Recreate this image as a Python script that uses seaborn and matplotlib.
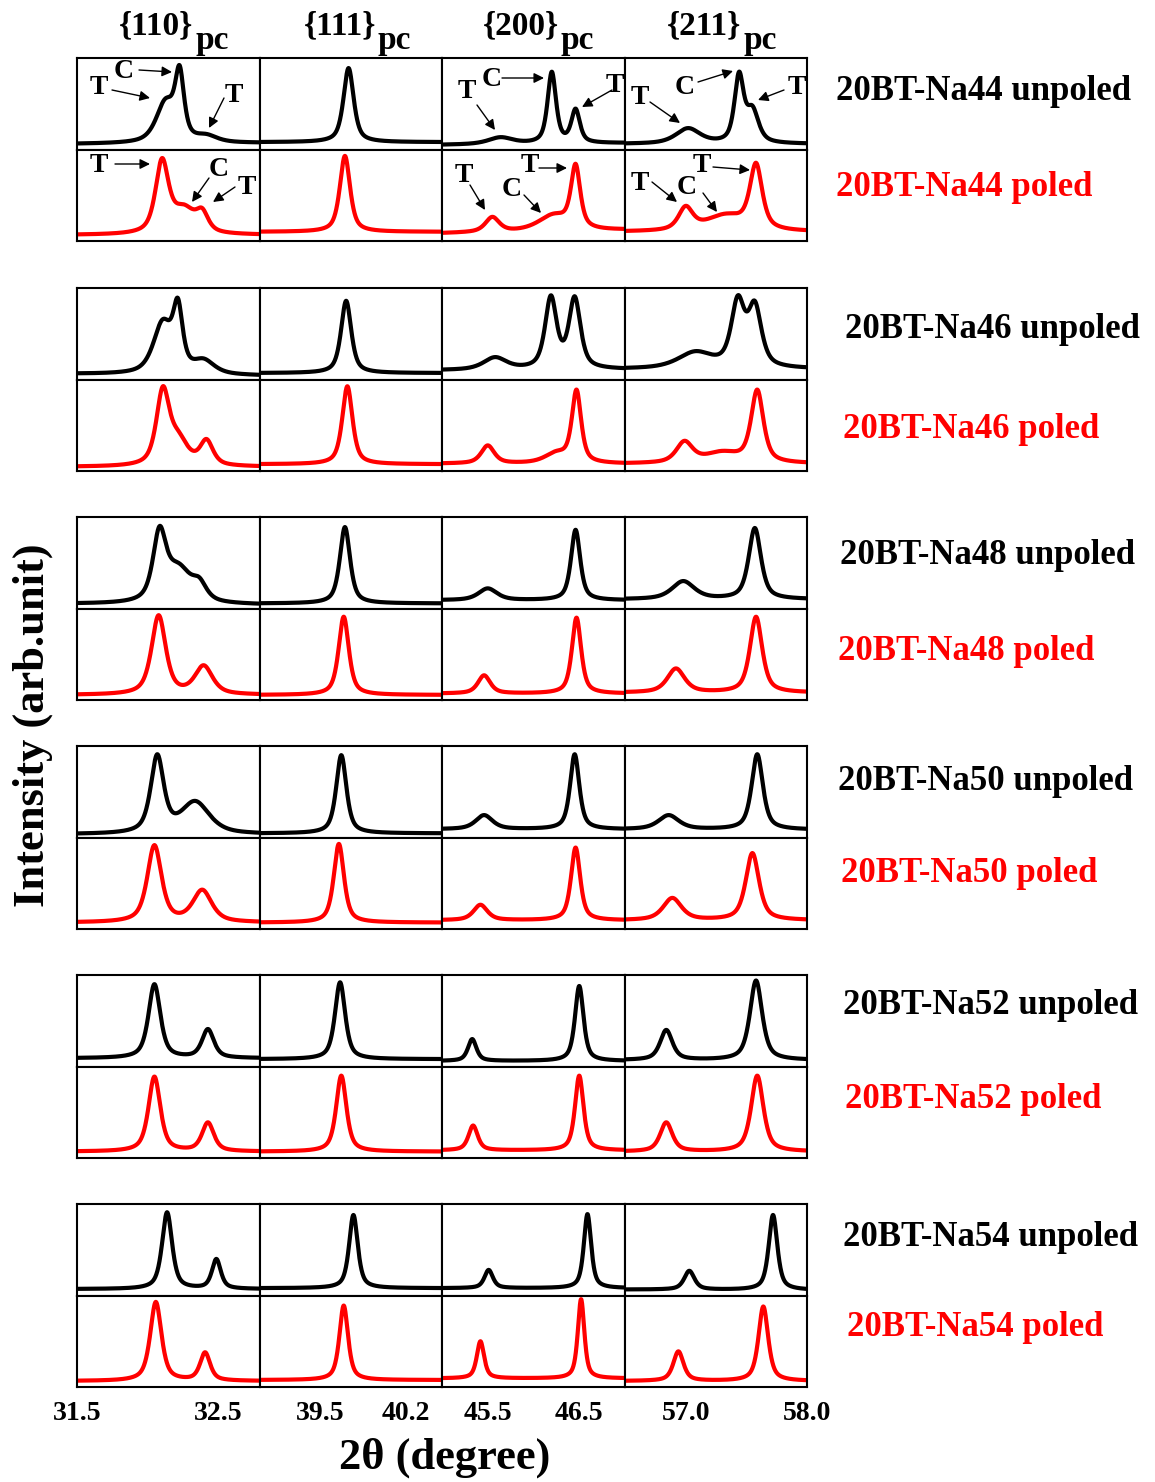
import numpy as np
import pandas as pd
import matplotlib
matplotlib.use("Agg")
import matplotlib.pyplot as plt
import seaborn as sns
from matplotlib.patches import FancyArrowPatch

# ---------------- data ----------------
REFLECTIONS = ["110", "111", "200", "211"]
X_RANGES = [(31.5, 32.8), (39.0, 40.5), (45.0, 47.0), (56.5, 58.0)]
TICKS = [[31.5, 32.5], [39.5, 40.2], [45.5, 46.5], [57.0, 58.0]]
TICK_LABELS = [["31.5", "32.5"], ["39.5", "40.2"], ["45.5", "46.5"], ["57.0", "58.0"]]
SAMPLES = ["20BT-Na44", "20BT-Na46", "20BT-Na48", "20BT-Na50", "20BT-Na52", "20BT-Na54"]

# peaks per reflection: (2theta centre, apparent height [panel fraction], FWHM)
NA44_UNPOLED = [
    [(32.13, 0.56, 0.16), (32.229, 0.92, 0.075), (32.42, 0.17, 0.18)],
    [(39.73, 0.89, 0.10)],
    [(45.64, 0.135, 0.32), (46.20, 0.85, 0.11), (46.46, 0.447, 0.11)],
    [(57.02, 0.234, 0.24), (57.44, 0.85, 0.09), (57.55, 0.48, 0.12)],
]
NA44_UNPOLED_BASE = [(0.06, 0.07), (0.08, 0.08), (0.05, 0.07), (0.06, 0.06)]
NA44_POLED = [
    [(32.104, 0.906, 0.11), (32.26, 0.40, 0.20), (32.39, 0.36, 0.10)],
    [(39.70, 0.93, 0.10)],
    [(45.55, 0.264, 0.18), (46.22, 0.30, 0.40), (46.46, 0.844, 0.12)],
    [(57.00, 0.384, 0.14), (57.33, 0.30, 0.40), (57.58, 0.855, 0.12)],
]
NA44_POLED_BASE = [(0.065, 0.065), (0.10, 0.10), (0.083, 0.12), (0.10, 0.10)]

NA46_UNPOLED = [
    [(32.11, 0.66, 0.16), (32.217, 0.89, 0.08), (32.40, 0.23, 0.18)],
    [(39.71, 0.86, 0.10)],
    [(45.58, 0.245, 0.30), (46.19, 0.92, 0.15), (46.45, 0.91, 0.15)],
    [(57.08, 0.31, 0.34), (57.43, 0.92, 0.13), (57.57, 0.86, 0.13)],
]
NA46_UNPOLED_BASE = [(0.06, 0.04), (0.07, 0.07), (0.10, 0.11), (0.115, 0.115)]
NA46_POLED = [
    [(32.11, 0.926, 0.11), (32.22, 0.44, 0.16), (32.42, 0.35, 0.11)],
    [(39.72, 0.926, 0.10)],
    [(45.50, 0.28, 0.17), (46.25, 0.22, 0.30), (46.47, 0.89, 0.12)],
    [(56.99, 0.33, 0.16), (57.30, 0.22, 0.35), (57.59, 0.89, 0.12)],
]
NA46_POLED_BASE = [(0.045, 0.045), (0.074, 0.074), (0.08, 0.08), (0.08, 0.08)]

NA48_UNPOLED = [
    [(32.086, 0.90, 0.11), (32.22, 0.50, 0.22), (32.37, 0.34, 0.12)],
    [(39.70, 0.89, 0.10)],
    [(45.50, 0.22, 0.24), (46.46, 0.86, 0.12)],
    [(56.98, 0.30, 0.22), (57.57, 0.88, 0.12)],
]
NA48_UNPOLED_BASE = [(0.05, 0.04), (0.055, 0.055), (0.09, 0.09), (0.10, 0.10)]
NA48_POLED = [
    [(32.08, 0.927, 0.12), (32.40, 0.38, 0.15)],
    [(39.69, 0.91, 0.10)],
    [(45.46, 0.27, 0.16), (46.47, 0.90, 0.12)],
    [(56.92, 0.345, 0.17), (57.58, 0.91, 0.12)],
]
NA48_POLED_BASE = [(0.055, 0.055), (0.055, 0.055), (0.07, 0.07), (0.08, 0.08)]

NA50_UNPOLED = [
    [(32.07, 0.91, 0.11), (32.34, 0.40, 0.24)],
    [(39.67, 0.90, 0.10)],
    [(45.46, 0.245, 0.22), (46.45, 0.91, 0.12)],
    [(56.86, 0.245, 0.20), (57.59, 0.91, 0.11)],
]
NA50_UNPOLED_BASE = [(0.035, 0.035), (0.045, 0.045), (0.09, 0.09), (0.09, 0.085)]
NA50_POLED = [
    [(32.05, 0.917, 0.12), (32.39, 0.43, 0.16)],
    [(39.65, 0.93, 0.10)],
    [(45.42, 0.265, 0.18), (46.46, 0.89, 0.12)],
    [(56.89, 0.34, 0.18), (57.55, 0.83, 0.13)],
]
NA50_POLED_BASE = [(0.07, 0.07), (0.07, 0.07), (0.095, 0.095), (0.095, 0.095)]

NA52_UNPOLED = [
    [(32.05, 0.90, 0.10), (32.43, 0.41, 0.10)],
    [(39.66, 0.92, 0.10)],
    [(45.33, 0.30, 0.11), (46.50, 0.88, 0.11)],
    [(56.84, 0.40, 0.12), (57.58, 0.94, 0.12)],
]
NA52_UNPOLED_BASE = [(0.09, 0.09), (0.08, 0.08), (0.06, 0.06), (0.07, 0.07)]
NA52_POLED = [
    [(32.05, 0.89, 0.10), (32.43, 0.39, 0.10)],
    [(39.67, 0.90, 0.10)],
    [(45.34, 0.355, 0.12), (46.50, 0.90, 0.11)],
    [(56.84, 0.39, 0.12), (57.59, 0.90, 0.12)],
]
NA52_POLED_BASE = [(0.07, 0.07), (0.07, 0.07), (0.083, 0.083), (0.07, 0.07)]

NA54_UNPOLED = [
    [(32.14, 0.91, 0.085), (32.49, 0.40, 0.075)],
    [(39.77, 0.88, 0.085)],
    [(45.51, 0.28, 0.11), (46.59, 0.89, 0.095)],
    [(57.03, 0.27, 0.10), (57.72, 0.88, 0.085)],
]
NA54_UNPOLED_BASE = [(0.07, 0.07), (0.08, 0.08), (0.08, 0.08), (0.065, 0.06)]
NA54_POLED = [
    [(32.06, 0.93, 0.095), (32.41, 0.38, 0.085)],
    [(39.69, 0.89, 0.085)],
    [(45.42, 0.50, 0.095), (46.52, 0.96, 0.085)],
    [(56.94, 0.39, 0.10), (57.64, 0.88, 0.095)],
]
NA54_POLED_BASE = [(0.065, 0.065), (0.076, 0.076), (0.094, 0.094), (0.065, 0.065)]

UNPOLED = [NA44_UNPOLED, NA46_UNPOLED, NA48_UNPOLED, NA50_UNPOLED, NA52_UNPOLED, NA54_UNPOLED]
UNPOLED_BASE = [NA44_UNPOLED_BASE, NA46_UNPOLED_BASE, NA48_UNPOLED_BASE,
                NA50_UNPOLED_BASE, NA52_UNPOLED_BASE, NA54_UNPOLED_BASE]
POLED = [NA44_POLED, NA46_POLED, NA48_POLED, NA50_POLED, NA52_POLED, NA54_POLED]
POLED_BASE = [NA44_POLED_BASE, NA46_POLED_BASE, NA48_POLED_BASE,
              NA50_POLED_BASE, NA52_POLED_BASE, NA54_POLED_BASE]

# ---------------- profile reconstruction ----------------
ETA = 0.65


def pv(x, c, w):
    d = (x - c) / w
    lor = 1.0 / (1.0 + 4.0 * d ** 2)
    gau = np.exp(-4.0 * np.log(2.0) * d ** 2)
    return ETA * lor + (1 - ETA) * gau


def profile(xr, peaks, base):
    x = np.linspace(xr[0], xr[1], 700)
    c = np.array([p[0] for p in peaks])
    h = np.array([p[1] for p in peaks])
    w = np.array([p[2] for p in peaks])

    def bl(t):
        return base[0] + (base[1] - base[0]) * (t - xr[0]) / (xr[1] - xr[0])

    M = pv(c[:, None], c[None, :], w[None, :])
    A = np.linalg.solve(M, h - bl(c))
    A = np.clip(A, 0, None)
    y = bl(x) + (pv(x[:, None], c[None, :], w[None, :]) * A[None, :]).sum(axis=1)
    return pd.DataFrame({"two_theta": x, "intensity": y})


# ---------------- layout ----------------
W, H = 1155, 1482
sns.set_theme(style="white")
plt.rcParams["font.family"] = ["Liberation Serif", "DejaVu Serif"]
plt.rcParams["text.color"] = "black"
plt.rcParams["xtick.color"] = "black"
plt.rcParams["axes.labelcolor"] = "black"

fig = plt.figure(figsize=(W / 100, H / 100), dpi=100)
fig.patch.set_facecolor("white")

COL_EDGES = [77, 260, 442, 625, 807]
GROUP_TOPS = [58, 288, 517, 746, 975, 1204]
ROW_H = 91.5


def add_px_axes(x0, y0, x1, y1):
    return fig.add_axes([x0 / W, 1 - y1 / H, (x1 - x0) / W, (y1 - y0) / H])


for g in range(6):
    for r, (curves, bases, color) in enumerate([(UNPOLED, UNPOLED_BASE, "black"),
                                                 (POLED, POLED_BASE, "#ff0000")]):
        y0 = GROUP_TOPS[g] + r * ROW_H
        for c in range(4):
            ax = add_px_axes(COL_EDGES[c], y0, COL_EDGES[c + 1], y0 + ROW_H)
            df = profile(X_RANGES[c], curves[g][c], bases[g][c])
            sns.lineplot(data=df, x="two_theta", y="intensity", ax=ax,
                         color=color, lw=3.0, sort=False)
            ax.set_xlim(*X_RANGES[c])
            ax.set_ylim(0, 1)
            ax.set_xlabel("")
            ax.set_ylabel("")
            ax.set_yticks([])
            for sp in ax.spines.values():
                sp.set_visible(True)
                sp.set_color("black")
                sp.set_linewidth(1.5)
            if g == 5 and r == 1:
                ax.set_xticks(TICKS[c])
                ax.set_xticklabels(TICK_LABELS[c], fontsize=20, fontweight="bold",
                                   color="black")
                ax.tick_params(axis="x", length=0, pad=10)
            else:
                ax.set_xticks([])

# overlay for texts and arrows (pixel coordinates)
ov = fig.add_axes([0, 0, 1, 1], zorder=10)
ov.set_xlim(0, W)
ov.set_ylim(H, 0)
ov.axis("off")
ov.patch.set_alpha(0)

# column titles
for c, refl in enumerate(REFLECTIONS):
    xc = (COL_EDGES[c] + COL_EDGES[c + 1]) / 2 + 25
    ov.text(xc, 26, "{" + refl + "}", fontsize=24, fontweight="bold",
            ha="right", va="center", color="black")
    ov.text(xc + 2, 40, "pc", fontsize=24, fontweight="bold", ha="left",
            va="center", color="black")

# sample labels
UNPOLED_LABEL_Y = [92, 329, 555, 782, 1006, 1237]
POLED_LABEL_Y = [187, 429, 652, 873, 1099, 1327]
UNPOLED_LABEL_X = [836, 845, 840, 838, 843, 843]
POLED_LABEL_X = [836, 843, 838, 841, 845, 847]
for g, name in enumerate(SAMPLES):
    ov.text(UNPOLED_LABEL_X[g], UNPOLED_LABEL_Y[g], name + " unpoled", fontsize=25,
            fontweight="bold", color="black", ha="left", va="center")
    ov.text(POLED_LABEL_X[g], POLED_LABEL_Y[g], name + " poled", fontsize=25,
            fontweight="bold", color="#ff0000", ha="left", va="center")

# axis labels
ov.text(33, 725, "Intensity (arb.unit)", fontsize=32, fontweight="bold",
        rotation=90, ha="center", va="center", color="black")
ov.text(445, 1458, "2θ (degree)", fontsize=32, fontweight="bold",
        ha="center", va="center", color="black")

# phase annotations (label, text x, text y, arrow start x, y, arrow tip x, y)
ANNOTATIONS = [
    ("T", 99, 87, 112, 90, 150, 98),
    ("C", 124, 72, 139, 70, 172, 72),
    ("T", 234, 95, 224, 98, 209, 128),
    ("T", 99, 165, 115, 164, 150, 164),
    ("C", 219, 170, 209, 178, 192, 202),
    ("T", 247, 187, 235, 187, 213, 202),
    ("T", 467, 92, 477, 105, 495, 130),
    ("C", 492, 80, 502, 78, 544, 78),
    ("T", 615, 85, 612, 90, 582, 107),
    ("T", 464, 175, 470, 185, 485, 210),
    ("C", 512, 190, 524, 195, 541, 213),
    ("T", 530, 165, 539, 168, 567, 168),
    ("T", 640, 98, 650, 102, 680, 123),
    ("C", 685, 87, 698, 82, 733, 71),
    ("T", 797, 88, 784, 90, 758, 100),
    ("T", 640, 183, 652, 182, 677, 202),
    ("C", 687, 188, 703, 193, 717, 212),
    ("T", 702, 165, 713, 167, 750, 170),
]
for lab, tx, ty, sx, sy, ex, ey in ANNOTATIONS:
    ov.text(tx, ty, lab, fontsize=20, fontweight="bold", ha="center", va="center",
            color="black")
    ov.add_patch(FancyArrowPatch((sx, sy), (ex, ey), arrowstyle="-|>",
                                 mutation_scale=15, lw=1.0, color="black",
                                 shrinkA=0, shrinkB=0))

fig.savefig("out.png", dpi=100, facecolor="white")
